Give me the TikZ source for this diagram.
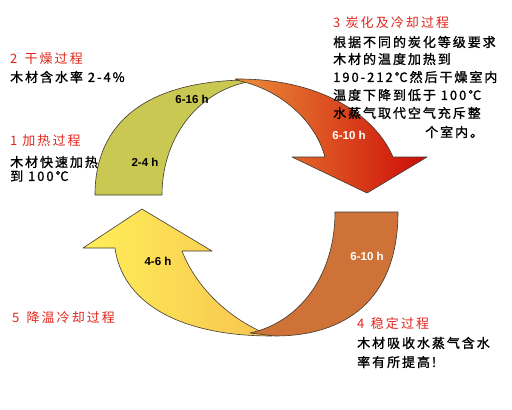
\documentclass[tikz,border=0pt]{standalone}
\usepackage{fontspec}
\setmainfont{Liberation Sans}
\newfontfamily\cjk[LetterSpace=16]{Noto Sans CJK SC}
\newfontfamily\cjkb[LetterSpace=15,FakeBold=1.2]{Noto Sans CJK SC}
\definecolor{olivefill}{RGB}{200,200,82}
\definecolor{orA}{RGB}{234,142,58}
\definecolor{orB}{RGB}{205,12,6}
\definecolor{copperfill}{RGB}{207,114,56}
\definecolor{yelA}{RGB}{255,238,88}
\definecolor{yelB}{RGB}{247,196,80}
\definecolor{titlered}{RGB}{225,38,28}
\definecolor{edgecol}{RGB}{65,58,48}
\begin{document}
\begin{tikzpicture}[x=1pt,y=-1pt,
  piece/.style={draw=edgecol,line width=0.6pt,line join=round},
  lbl/.style={font=\bfseries\fontsize{11.5}{13}\selectfont,inner sep=0pt},
  ttl/.style={font=\cjk\fontsize{13}{18}\selectfont,text=titlered,anchor=west,inner sep=0pt},
  txt/.style={font=\cjkb\fontsize{13}{18}\selectfont,text=black,anchor=west,inner sep=0pt}]
\path[use as bounding box,fill=white] (0,0) rectangle (512,410);

% stage 1-2 (olive arc)
\draw[piece,fill=olivefill] (95,195) .. controls (95,120) and (150,80) .. (250,80)
  -- (243,83) .. controls (195,95) and (162,140) .. (162,195) -- cycle;
% stage 3 (orange-red arrow)
\draw[piece,left color=orA,right color=orB] (235,79) .. controls (320,78) and (375,115) .. (393,157)
  -- (427,157) -- (367,193) -- (292,157) -- (325,157)
  .. controls (315,120) and (280,90) .. (240,81) -- cycle;
% stage 5 (yellow arrow)
\draw[piece,left color=yelA,right color=yelB] (142,209) -- (212,251) -- (182,251)
  .. controls (195,285) and (228,320) .. (272,336)
  .. controls (175,336) and (122,300) .. (115,248) -- (83,248) -- cycle;
% stage 4 (copper arc)
\draw[piece,fill=copperfill] (335,212) -- (398,212) .. controls (398,300) and (345,336) .. (275,336)
  -- (250,333) .. controls (300,322) and (335,275) .. (335,212) -- cycle;

% durations
\node[lbl] (d1) at (192,99) {6-16 h};
\node[lbl] (d2) at (145,162) {2-4 h};
\node[lbl,text=white] (d3) at (349,135) {6-10 h};
\node[lbl,text=white] (d4) at (367,256) {6-10 h};
\node[lbl] (d5) at (158,261) {4-6 h};

% texts
\node[ttl] (t2) at (10,59) {2\hspace{0.55em}干燥过程};
\node[txt] (b2) at (10,77) {木材含水率 2-4\%};
\node[ttl] (t1) at (10,141) {1 加热过程};
\node[txt] (b1a) at (10,162) {木材快速加热};
\node[txt] (b1b) at (10,176) {到 100℃};

\node[ttl] (t3) at (333,23) {3\hspace{0.4em}炭化及冷却过程};
\node[txt] (b3a) at (333,42) {根据不同的炭化等级要求};
\node[txt] (b3b) at (333,59) {木材的温度加热到};
\node[txt] (b3c) at (333,77) {190-212℃然后干燥室内};
\node[txt] (b3d) at (333,95) {温度下降到低于 100℃};
\node[txt] (b3e) at (333,113) {水蒸气取代空气充斥整};
\node[txt] (b3f) at (425,132) {个室内。};

\node[ttl] (t5) at (12,318) {5\hspace{0.55em}降温冷却过程};

\node[ttl] (t4) at (357,324) {4\hspace{0.5em}稳定过程};
\node[txt] (b4a) at (357,343) {木材吸收水蒸气含水};
\node[txt] (b4b) at (357,362) {率有所提高!};
\end{tikzpicture}
\end{document}
